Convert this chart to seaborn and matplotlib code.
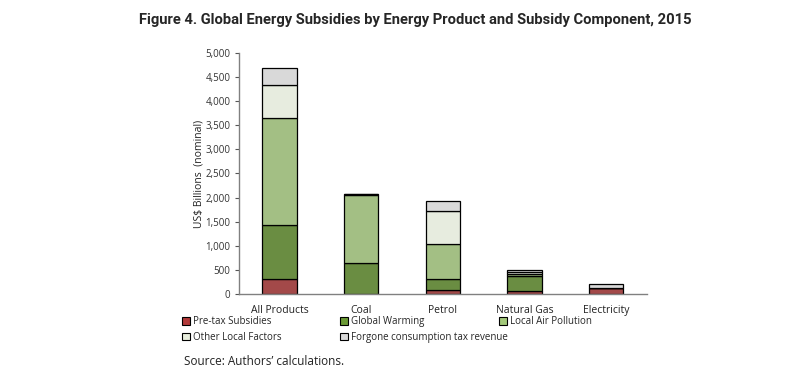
import numpy as np
import pandas as pd
import seaborn as sns
import matplotlib.pyplot as plt
from matplotlib.patches import Patch

products = ["All Products", "Coal", "Petrol", "Natural Gas", "Electricity"]
components = ["Pre-tax Subsidies", "Global Warming", "Local Air Pollution",
              "Other Local Factors", "Forgone consumption tax revenue"]
pretax = [310, 10, 95, 75, 135]
global_warming = [1130, 630, 220, 300, 0]
local_air = [2210, 1420, 720, 50, 0]
other_local = [690, 20, 690, 35, 0]
forgone_tax = [350, 0, 200, 45, 70]

colors = ["#B23A3A", "#6B9A35", "#A3C97A", "#E8EEDD", "#D9D9D9"]

sns.set_style("white")
plt.rcParams["font.family"] = ["Open Sans", "DejaVu Sans"]

df = pd.DataFrame({"Product": products,
                   components[0]: pretax, components[1]: global_warming,
                   components[2]: local_air, components[3]: other_local,
                   components[4]: forgone_tax})

fig = plt.figure(figsize=(8.12, 3.85), dpi=100)
ax = fig.add_axes([0.294, 0.236, 0.503, 0.627])

bottom = np.zeros(len(products))
for comp, col in zip(components, colors):
    sns.barplot(data=df, x="Product", y=comp, bottom=bottom, color=col,
                edgecolor="black", linewidth=0.9, width=0.42, ax=ax)
    bottom = bottom + df[comp].to_numpy()

ax.set_xlim(-0.5, 4.5)
ax.set_ylim(0, 5000)
ax.set_yticks(range(0, 5001, 500))
ax.set_yticklabels([f"{v:,}" for v in range(0, 5001, 500)])
ax.set_xlabel("")
ax.set_ylabel("US$ Billions  (nominal)", fontsize=7.5, color="#222222", labelpad=1)
ax.tick_params(axis="y", direction="out", length=3, width=0.8, color="#555555",
               labelsize=7, labelcolor="#333333", left=True, pad=3)
ax.tick_params(axis="x", length=0, labelsize=7.5, labelcolor="#222222", pad=8)
sns.despine(ax=ax, top=True, right=True)
for s in ["left", "bottom"]:
    ax.spines[s].set_color("#808080")
    ax.spines[s].set_linewidth(1.0)

fig.suptitle("Figure 4. Global Energy Subsidies by Energy Product and Subsidy Component, 2015",
             x=0.511, y=0.965, fontsize=10.6, fontweight="bold", family="Roboto")

# legend laid out as three separate columns, like the original
handles = [Patch(facecolor=c, edgecolor="black", linewidth=0.8) for c in colors]
columns = [([0, 3], 0.224), ([1, 4], 0.419), ([2], 0.615)]
for idx, x0 in columns:
    fig.legend([handles[i] for i in idx], [components[i] for i in idx],
               loc="upper left", bbox_to_anchor=(x0, 0.178),
               frameon=False, fontsize=7, handlelength=0.8, handleheight=0.8,
               handletextpad=0.3, labelspacing=0.45,
               borderaxespad=0, borderpad=0)

fig.text(0.227, 0.052, "Source: Authors\u2019 calculations.", fontsize=8.5, color="#222222")

fig.savefig("out.png", dpi=100)
